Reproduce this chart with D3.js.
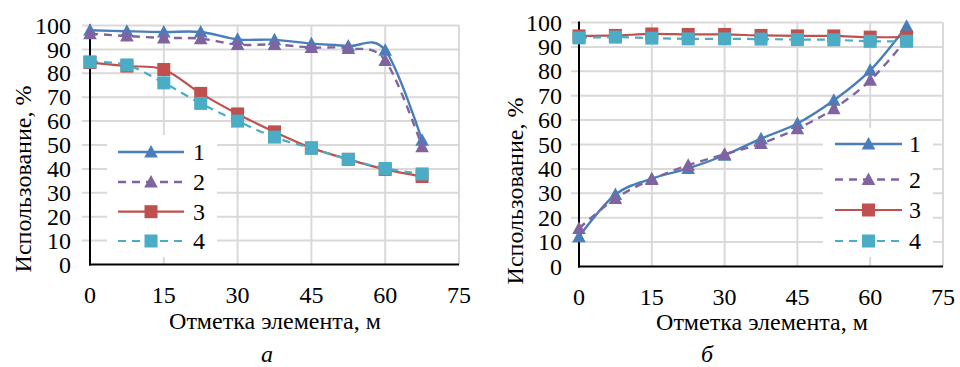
<!DOCTYPE html>
<html><head><meta charset="utf-8">
<script src="https://cdn.jsdelivr.net/npm/d3@7"></script>
<style>
body{margin:0;background:#fff}
svg{display:block}
</style>
</head><body>
<svg id="chart" width="960" height="367"></svg>
<script>
// Positions along the element (m)
const elevations = [0, 7.5, 15, 22.5, 30, 37.5, 45, 52.5, 60, 67.5];
const xTickValues = [0, 15, 30, 45, 60, 75];
const yTickValues = [0, 10, 20, 30, 40, 50, 60, 70, 80, 90, 100];
const seriesLabels = ["1", "2", "3", "4"];

// Panel "а" – utilisation, %
const panelA1 = [98, 97.6, 97.3, 97.3, 94.2, 94, 92.4, 91.4, 89.6, 52];
const panelA2 = [96.6, 95.6, 94.8, 94.5, 92, 92, 90.8, 90.4, 85.4, 49.3];
const panelA3 = [84.5, 83, 81.6, 71.6, 63, 55.5, 48.8, 44, 39.8, 36.8];
const panelA4 = [84.8, 83.5, 76, 67.4, 60, 53.3, 48.6, 44, 40.2, 37.9];

// Panel "б" – utilisation, %
const panelB1 = [12.2, 29.5, 36, 40.2, 45.6, 52.4, 58.6, 68.1, 80.4, 98.5];
const panelB2 = [15.6, 27.9, 35.7, 41.5, 46, 50.4, 56.5, 64.7, 76.3, 93];
const panelB3 = [94.5, 94.7, 95.3, 95.1, 95.1, 94.7, 94.5, 94.5, 94.0, 94.0];
const panelB4 = [93.7, 94, 93.6, 93.3, 93.3, 93.2, 93, 92.9, 92.3, 92.3];

const seriesStyle = [
  {color: "#4a7ebb", dash: null, marker: "triangle", width: 2.4},
  {color: "#8064a2", dash: "8,6", marker: "triangle", width: 2.4},
  {color: "#c0504d", dash: null, marker: "square", width: 2.2},
  {color: "#4bacc6", dash: "8,6", marker: "square", width: 2.2}
];

// pick the first installed serif face (Times-like preferred)
function pickFont(cands) {
  const ctx = document.createElement("canvas").getContext("2d");
  const sample = "Отметка элемента 0123456789";
  for (const f of cands) {
    for (const base of ["monospace", "sans-serif"]) {
      ctx.font = `40px ${base}`;
      const w0 = ctx.measureText(sample).width;
      ctx.font = `40px "${f}", ${base}`;
      if (Math.abs(ctx.measureText(sample).width - w0) > 0.5) return `"${f}", serif`;
    }
  }
  return "serif";
}
const FAMILY = pickFont(["Liberation Serif", "Times New Roman", "Tinos", "Noto Serif", "DejaVu Serif", "FreeSerif"]);

const svg = d3.select("#chart").attr("font-family", FAMILY);
svg.append("rect").attr("width", 960).attr("height", 367).attr("fill", "#fff");

const FONT = 24;

function marker(g, type, cx, cy, color) {
  if (type === "triangle") {
    g.append("path")
      .attr("d", `M${cx},${cy - 7}L${cx + 6.8},${cy + 5.5}L${cx - 6.8},${cy + 5.5}Z`)
      .attr("fill", color);
  } else {
    g.append("rect")
      .attr("x", cx - 6.5).attr("y", cy - 6.5)
      .attr("width", 13).attr("height", 13)
      .attr("fill", color);
  }
}

function drawPanel(p) {
  const g = svg.append("g");
  const x = d3.scaleLinear().domain([0, 75]).range([p.left, p.right]);
  const y = d3.scaleLinear().domain([0, 100]).range([p.bottom, p.top]);

  // grid
  g.append("g").selectAll("line").data(yTickValues.slice(1)).join("line")
    .attr("x1", p.left - 8).attr("x2", p.right)
    .attr("y1", d => y(d)).attr("y2", d => y(d))
    .attr("stroke", "#d9d9d9").attr("stroke-width", 2);
  g.append("g").selectAll("line").data(xTickValues.slice(1)).join("line")
    .attr("x1", d => x(d)).attr("x2", d => x(d))
    .attr("y1", p.top).attr("y2", p.bottom)
    .attr("stroke", "#d9d9d9").attr("stroke-width", 2);

  // axes
  g.append("line").attr("x1", x(0)).attr("x2", x(0)).attr("y1", p.top - 1).attr("y2", p.bottom + 1)
    .attr("stroke", "#000").attr("stroke-width", 2);
  g.append("line").attr("x1", x(0) - 1).attr("x2", p.right).attr("y1", p.bottom).attr("y2", p.bottom)
    .attr("stroke", "#000").attr("stroke-width", 2);

  // tick labels
  g.append("g").selectAll("text").data(yTickValues).join("text")
    .attr("x", p.yLabelX).attr("y", d => y(d)).attr("dy", "0.34em")
    .attr("text-anchor", "end").attr("font-size", FONT).text(d => d);
  g.append("g").selectAll("text").data(xTickValues).join("text")
    .attr("x", d => x(d)).attr("y", p.xLabelY)
    .attr("text-anchor", "middle").attr("font-size", FONT).text(d => d);

  // axis titles
  g.append("text").attr("x", p.xTitleX).attr("y", p.xTitleY)
    .attr("text-anchor", "middle").attr("font-size", FONT).text("Отметка элемента, м");
  g.append("text").attr("transform", `translate(${p.yTitleX},${p.yTitleY}) rotate(-90)`)
    .attr("text-anchor", "middle").attr("font-size", FONT).text("Использование, %");
  g.append("text").attr("x", p.capX).attr("y", p.capY)
    .attr("text-anchor", "middle").attr("font-size", FONT).attr("font-style", "italic").text(p.caption);

  // series
  const line = d3.line().x((d, i) => x(elevations[i])).y(d => y(d)).curve(d3.curveCatmullRom.alpha(0));
  p.series.forEach((vals, k) => {
    const s = seriesStyle[k];
    const sg = g.append("g");
    sg.append("path").attr("d", line(vals)).attr("fill", "none")
      .attr("stroke", s.color).attr("stroke-width", s.width)
      .attr("stroke-dasharray", s.dash);
    vals.forEach((v, i) => marker(sg, s.marker, x(elevations[i]), y(v), s.color));
  });

  // legend
  const lg = g.append("g");
  lg.append("rect").attr("x", p.legend.x0).attr("y", p.legend.y0)
    .attr("width", p.legend.x1 - p.legend.x0).attr("height", p.legend.y1 - p.legend.y0)
    .attr("fill", "#fff");
  seriesLabels.forEach((lab, k) => {
    const s = seriesStyle[k];
    const ly = p.legend.rows[k];
    lg.append("line").attr("x1", p.legend.lineX0).attr("x2", p.legend.lineX1)
      .attr("y1", ly).attr("y2", ly).attr("stroke", s.color).attr("stroke-width", s.width)
      .attr("stroke-dasharray", s.dash);
    marker(lg, s.marker, (p.legend.lineX0 + p.legend.lineX1) / 2, ly, s.color);
    lg.append("text").attr("x", p.legend.textX).attr("y", ly).attr("dy", "0.34em")
      .attr("font-size", FONT).text(lab);
  });
}

drawPanel({
  left: 90, right: 459, top: 25.5, bottom: 264.5,
  yLabelX: 71, xLabelY: 303, xTitleX: 275, xTitleY: 329,
  yTitleX: 31, yTitleY: 179, capX: 267, capY: 362, caption: "а",
  series: [panelA1, panelA2, panelA3, panelA4],
  legend: {x0: 107, x1: 217, y0: 135, y1: 257, rows: [152, 182, 211.7, 241],
           lineX0: 118, lineX1: 184, textX: 193}
});

drawPanel({
  left: 579, right: 943, top: 22.5, bottom: 266.5,
  yLabelX: 562, xLabelY: 305, xTitleX: 762, xTitleY: 330,
  yTitleX: 523, yTitleY: 191, capX: 707, capY: 362, caption: "б",
  series: [panelB1, panelB2, panelB3, panelB4],
  legend: {x0: 823, x1: 933, y0: 128, y1: 257, rows: [144, 179.5, 210, 241],
           lineX0: 835, lineX1: 902, textX: 909}
});
</script>
</body></html>
